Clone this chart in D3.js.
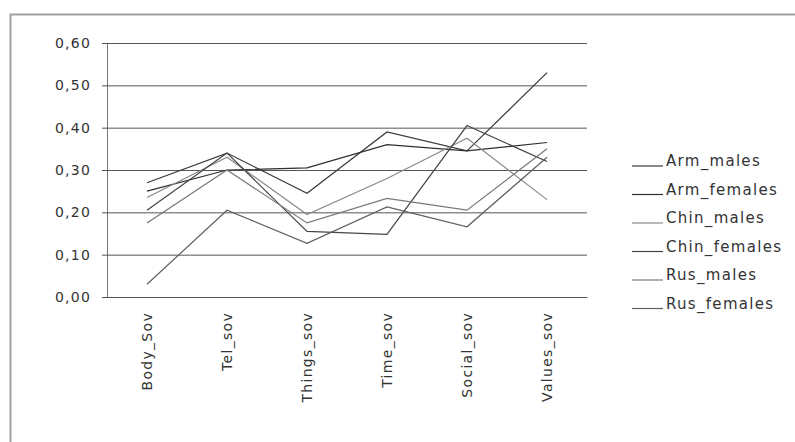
<!DOCTYPE html>
<html>
<head>
<meta charset="utf-8">
<script src="https://d3js.org/d3.v7.min.js"></script>
<style>
body { margin: 0; background: #fff; }
text { font-family: "DejaVu Sans", sans-serif; fill: #333; }
</style>
</head>
<body>
<svg id="chart" width="795" height="442"></svg>
<script>
var categories = ["Body_Sov", "Tel_sov", "Things_sov", "Time_sov", "Social_sov", "Values_sov"];

var seriesNames = ["Arm_males", "Arm_females", "Chin_males", "Chin_females", "Rus_males", "Rus_females"];

var armMales    = [0.27, 0.34, 0.245, 0.39, 0.345, 0.53];
var armFemales  = [0.25, 0.30, 0.305, 0.36, 0.345, 0.365];
var chinMales   = [0.235, 0.33, 0.195, 0.28, 0.375, 0.23];
var chinFemales = [0.205, 0.34, 0.155, 0.148, 0.405, 0.32];
var rusMales    = [0.175, 0.30, 0.175, 0.233, 0.205, 0.35];
var rusFemales  = [0.03, 0.205, 0.127, 0.213, 0.166, 0.33];

var yTicks = [0, 0.1, 0.2, 0.3, 0.4, 0.5, 0.6];

var seriesValues = [armMales, armFemales, chinMales, chinFemales, rusMales, rusFemales];
var colorsArray = ["#3a3a3a", "#2e2e2e", "#8a8a8a", "#444444", "#777777", "#5e5e5e"];

var margin = ({top: 43, left: 107, right: 208, bottom: 145});
var width = 795, height = 442;

var svg = d3.select("#chart");

// outer chart frame
svg.append("rect")
.attr("x", 10.5).attr("y", 14.5)
.attr("width", 820).attr("height", 460)
.attr("fill", "none")
.attr("stroke", "#a0a0a0")
.attr("stroke-width", 2);

var x = d3.scaleBand()
.domain(categories)
.range([margin.left, width - margin.right]);

var y = d3.scaleLinear()
.domain([0, 0.6])
.range([height - margin.bottom, margin.top]);

var fmt = v => d3.format(".2f")(v).replace(".", ",");

// gridlines + y labels
var yAxis = g => g
.attr("transform", `translate(${margin.left},0)`)
.call(d3.axisLeft(y)
.tickValues(yTicks)
.tickFormat(fmt)
.tickSize(5)
.tickPadding(11))
.call(g => g.select(".domain").attr("stroke", "#777"))
.call(g => g.selectAll(".tick line").attr("stroke", "#555"))
.call(g => g.selectAll(".tick line").clone()
.attr("x1", 0)
.attr("x2", width - margin.right - margin.left)
.attr("stroke", "#555"))
.call(g => g.selectAll(".tick text")
.attr("font-size", 14)
.attr("letter-spacing", 1.2)
.attr("fill", "#333"));

svg.append("g").call(yAxis);

// x axis with rotated labels
var xAxis = g => g
.attr("transform", `translate(0,${height - margin.bottom})`)
.call(d3.axisBottom(x).tickSize(0).tickPadding(0))
.call(g => g.select(".domain").attr("stroke", "#555"))
.call(g => g.selectAll(".tick text")
.attr("transform", "rotate(-90)")
.attr("text-anchor", "end")
.attr("dy", "0.35em")
.attr("x", -15)
.attr("y", 0)
.attr("font-size", 14)
.attr("letter-spacing", 1.3)
.attr("fill", "#333"));

svg.append("g").call(xAxis);

var line = d3.line()
.x((d, i) => x(categories[i]) + x.bandwidth() / 2)
.y(d => y(d));

svg.append("g")
.selectAll("path")
.data(seriesValues)
.join("path")
.attr("d", d => line(d))
.attr("fill", "none")
.attr("stroke", (d, i) => colorsArray[i])
.attr("stroke-width", 1.2);

// legend
var legend = svg.append("g")
.selectAll("g")
.data(seriesNames)
.join("g")
.attr("transform", (d, i) => `translate(632,${166 + i * 28.5})`);

legend.append("line")
.attr("x1", 0).attr("x2", 31)
.attr("y1", 0).attr("y2", 0)
.attr("stroke", (d, i) => colorsArray[i])
.attr("stroke-width", 1.2);

legend.append("text")
.attr("x", 34)
.attr("y", 0)
.attr("font-size", 15)
.attr("letter-spacing", 1.3)
.attr("fill", "#333")
.text(d => d);
</script>
</body>
</html>
